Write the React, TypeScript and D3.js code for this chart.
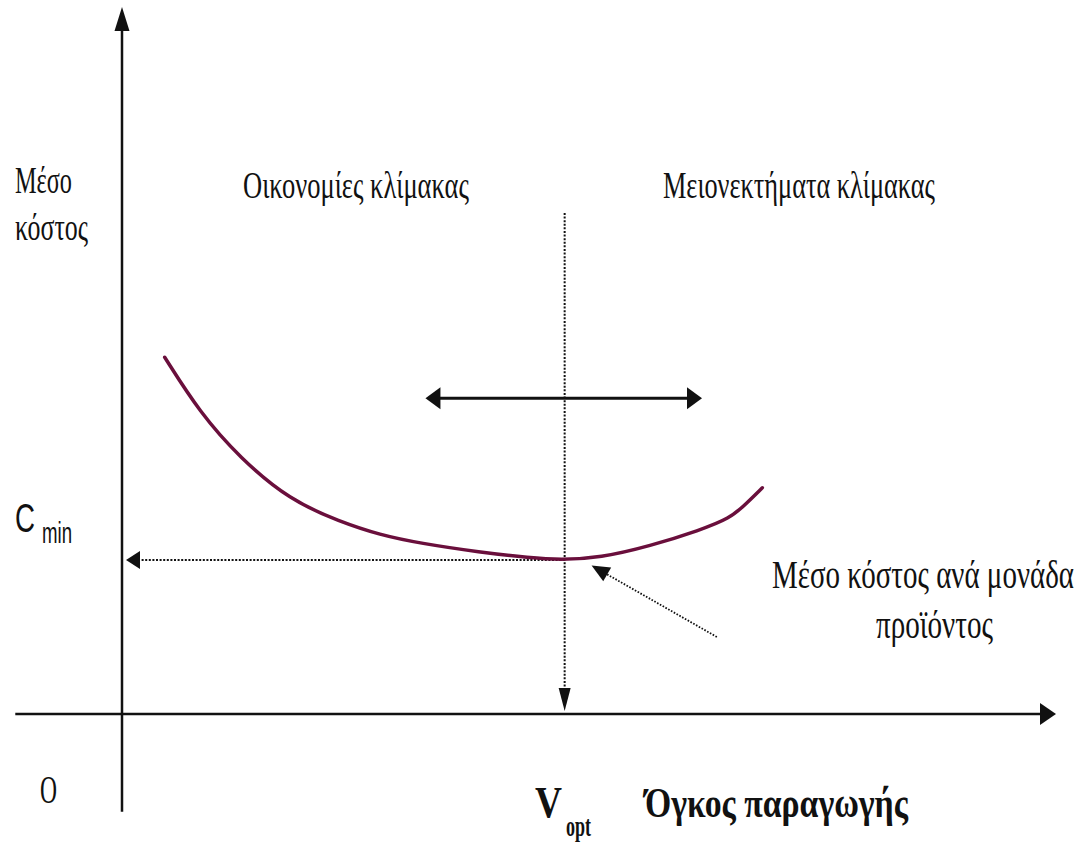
import React from "react";
import * as d3 from "d3";

// Conceptual data (volume, average cost) in abstract units 0..100
const curveVolume = [4.6, 8.4, 12.7, 18.1, 23.5, 27.8, 32.1, 38.6, 44.0, 47.2, 51.5, 56.9, 62.3, 65.5, 67.1, 69.0];
const curveCost = [51.4, 43.4, 36.9, 30.8, 27.7, 25.8, 24.6, 23.3, 22.5, 22.2, 22.5, 24.2, 26.5, 28.2, 30.1, 32.6];
const vOpt = [47.7];
const cMin = [22.2];
const scaleArrowVolume = [32.7, 62.5];
const scaleArrowCost = [45.5];
const pointerVolume = [64.1, 50.6];
const pointerCost = [11.1, 21.4];

const W = 1091;
const H = 845;

const x = d3.scaleLinear().domain([0, 100]).range([122, 1050]);
const y = d3.scaleLinear().domain([0, 100]).range([714, 20]);

const serif = "'Liberation Serif', 'Times New Roman', serif";
const sans = "'Liberation Sans', Arial, sans-serif";
const ink = "#111";
const K = 0.7; // vertical stretch factor of the lettering

type TProps = { x: number; y: number; len: number; size: number; children: string; bold?: boolean; family?: string };
const T = ({ x: tx, y: ty, len, size, children, bold, family }: TProps) => (
  <text
    transform={`translate(${tx},${ty}) scale(1,${1 / K})`}
    x={0}
    y={0}
    textLength={len}
    lengthAdjust="spacingAndGlyphs"
    fontSize={size * K}
    fontFamily={family || serif}
    fontWeight={bold ? "bold" : "normal"}
    fill={ink}
  >
    {children}
  </text>
);

export default function App() {
  const pts: [number, number][] = curveVolume.map((v, i) => [x(v), y(curveCost[i])]);
  const line = d3.line().curve(d3.curveBasis);
  const curvePath = line(pts) || "";

  const x0 = x(0);
  const y0 = y(0);
  const vx = x(vOpt[0]);
  const cy = y(cMin[0]);
  const ay = y(scaleArrowCost[0]);
  const ax1 = x(scaleArrowVolume[0]);
  const ax2 = x(scaleArrowVolume[1]);

  const dotted = { stroke: ink, strokeWidth: 2, strokeDasharray: "2 1.6", fill: "none" } as const;

  return (
    <svg width={W} height={H} style={{ position: "absolute", left: 0, top: 0, background: "#fff" }}>
      {/* Y axis */}
      <line x1={x0} y1={y(-14.1)} x2={x0} y2={30} stroke={ink} strokeWidth={2.5} />
      <polygon points={`${x0},7 ${x0 - 7.5},31 ${x0 + 7.5},31`} fill={ink} />
      {/* X axis */}
      <line x1={x(-11.5)} y1={y0} x2={1041} y2={y0} stroke={ink} strokeWidth={2.5} />
      <polygon points={`1056,${y0} 1040,${y0 - 11} 1040,${y0 + 11}`} fill={ink} />

      {/* dotted horizontal to Cmin */}
      <line x1={x0 + 16} y1={cy} x2={vx} y2={cy} {...dotted} />
      <polygon points={`${x0 + 4},${cy} ${x0 + 18},${cy - 9} ${x0 + 18},${cy + 9}`} fill={ink} />

      {/* dotted vertical to Vopt */}
      <line x1={vx} y1={y(72.2)} x2={vx} y2={y0 - 22} {...dotted} />
      <polygon points={`${vx},${y0 - 3} ${vx - 6},${y0 - 26} ${vx + 6},${y0 - 26}`} fill={ink} />

      {/* double arrow */}
      <line x1={ax1 + 12} y1={ay} x2={ax2 - 12} y2={ay} stroke={ink} strokeWidth={3} />
      <polygon points={`${ax1},${ay} ${ax1 + 15},${ay - 11} ${ax1 + 15},${ay + 11}`} fill={ink} />
      <polygon points={`${ax2},${ay} ${ax2 - 15},${ay - 11} ${ax2 - 15},${ay + 11}`} fill={ink} />

      {/* curve */}
      <path d={curvePath} fill="none" stroke="#6a0f3c" strokeWidth={3.5} strokeLinecap="round" strokeLinejoin="round" />

      {/* pointer */}
      {(() => {
        const px1 = x(pointerVolume[0]);
        const py1 = y(pointerCost[0]);
        const px2 = x(pointerVolume[1]);
        const py2 = y(pointerCost[1]);
        const ang = Math.atan2(py2 - py1, px2 - px1);
        const hl = 18;
        const hw = 8;
        const bx = px2 - hl * Math.cos(ang);
        const by = py2 - hl * Math.sin(ang);
        const nx = -Math.sin(ang);
        const ny = Math.cos(ang);
        return (
          <g>
            <line x1={px1} y1={py1} x2={bx} y2={by} stroke={ink} strokeWidth={1.8} strokeDasharray="1.6 1.6" />
            <polygon
              points={`${px2},${py2} ${bx + nx * hw},${by + ny * hw} ${bx - nx * hw},${by - ny * hw}`}
              fill={ink}
            />
          </g>
        );
      })()}

      {/* texts */}
      <T x={15} y={193} len={57} size={38}>Μέσο</T>
      <T x={15} y={240} len={73} size={38}>κόστος</T>
      <T x={243} y={198} len={226} size={38}>Οικονομίες κλίμακας</T>
      <T x={663} y={198} len={272} size={38}>Μειονεκτήματα κλίμακας</T>
      <T x={15} y={532} len={20} size={40} family={sans}>C</T>
      <T x={42} y={543} len={30} size={30} family={sans}>min</T>
      <T x={772} y={588} len={302} size={40}>Μέσο κόστος ανά μονάδα</T>
      <T x={876} y={638} len={117} size={40}>προϊόντος</T>
      <T x={40} y={803} len={17} size={40}>O</T>
      <T x={535} y={817} len={27} size={44} bold>V</T>
      <T x={566} y={836} len={25} size={29} bold>opt</T>
      <T x={645} y={817} len={263} size={42} bold>Όγκος παραγωγής</T>
    </svg>
  );
}
